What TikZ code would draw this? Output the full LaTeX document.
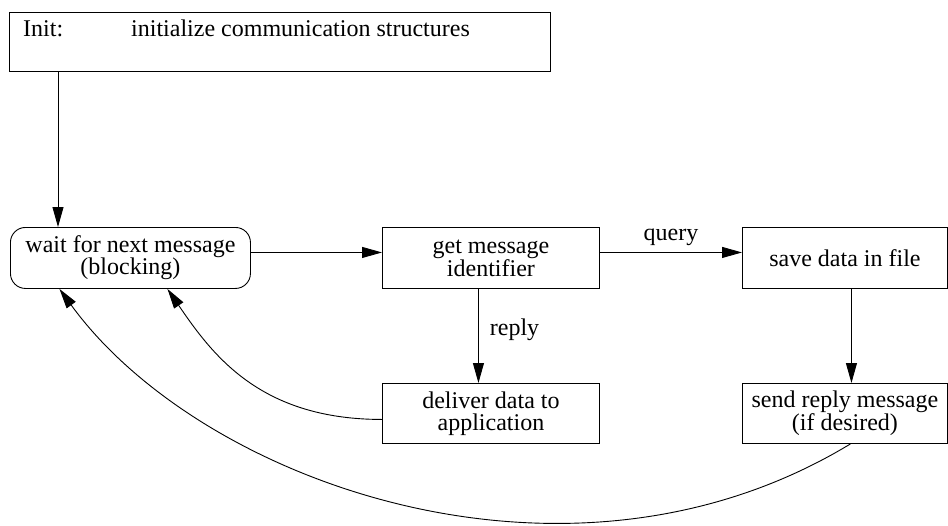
\documentclass[tikz,border=0pt]{standalone}
\usepackage{fontspec}
\setmainfont{Liberation Serif}
\usetikzlibrary{arrows.meta}

\tikzset{
  every node/.style={font=\fontsize{24}{22}\selectfont, inner sep=0pt},
  stepbox/.style={draw, line width=0.9pt, anchor=north west, align=center,
                  minimum width=#1},
  stepbox/.default=217pt,
  flow/.style={line width=0.9pt, -{Triangle[length=20pt,width=11pt]}},
}

\begin{document}
\begin{tikzpicture}[x=1pt, y=-1pt]
  \useasboundingbox (0,0) rectangle (948,525);

  % initialisation box with its two text fields
  \node[stepbox=541pt, minimum height=59pt] (init) at (9,12) {};
  \node[anchor=base west] (initlabel) at (23,36) {Init:};
  \node[anchor=base west] (inittext) at (131,36) {initialize communication structures};

  % processing steps
  \node[stepbox=240pt, minimum height=61pt, rounded corners=15pt] (wait) at (10,227)
       {wait for next message\\(blocking)};
  \node[stepbox=217pt, minimum height=61pt] (get) at (382,227)
       {get message\\identifier};
  \node[stepbox=205pt, minimum height=61pt] (save) at (742,227)
       {save data in file};
  \node[stepbox=217pt, minimum height=60pt] (deliver) at (382,383)
       {deliver data to\\application};
  \node[stepbox=205pt, minimum height=60pt] (send) at (742,383)
       {send reply message\\(if desired)};

  % straight connectors
  \draw[flow] ([xshift=49pt]init.south west) -- ([xshift=48pt]wait.north west);
  \draw[flow] ([yshift=5.5pt]wait.east) -- ([yshift=5.5pt]get.west);
  \draw[flow] ([yshift=5.5pt]get.east) -- ([yshift=5.5pt]save.west)
       node[pos=0.5, anchor=base, yshift=12pt] (query) {query};
  \draw[flow] ([xshift=-12.5pt]get.south) -- ([xshift=-12.5pt]deliver.north)
       node[pos=0.5, anchor=base west, xshift=11pt] (reply) {reply};
  \draw[flow] ([xshift=6.5pt]save.south) -- ([xshift=6.5pt]send.north);

  % return paths back to the waiting state
  \draw[flow] ([yshift=-6pt]deliver.west)
       .. controls +(-122,0) and +(45,66) .. ([xshift=37pt]wait.south);
  \draw[flow] ([xshift=5.5pt]send.south)
       .. controls +(-282,171) and +(141,194) .. ([xshift=-71pt]wait.south);
\end{tikzpicture}
\end{document}
